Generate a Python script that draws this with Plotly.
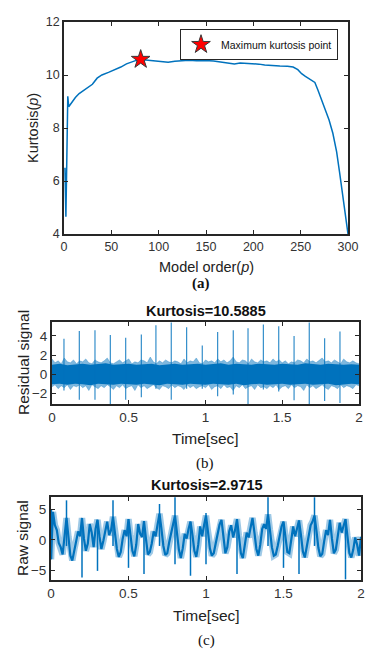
import numpy as np
import plotly.graph_objects as go

# ---------------- data ----------------
# (a) kurtosis versus AR model order
order_p = [1, 2, 3, 4, 5, 8, 12, 16, 20, 25, 30, 35, 40, 47, 55, 60, 66, 72, 77, 81,
           86, 92, 98, 104, 110, 117, 124, 132, 140, 149, 158, 166, 174, 180, 186,
           193, 200, 206, 212, 220, 228, 236, 242, 247, 251, 255, 260, 265, 268, 272,
           276, 280, 284, 288, 291, 294, 297, 299, 300]
kurt_p = [6.5, 4.65, 6.9, 9.2, 8.8, 8.95, 9.15, 9.3, 9.4, 9.52, 9.65, 9.88, 10.0, 10.1,
          10.22, 10.3, 10.42, 10.5, 10.56, 10.5885, 10.57, 10.55, 10.52, 10.5, 10.48,
          10.52, 10.55, 10.56, 10.54, 10.55, 10.53, 10.5, 10.46, 10.42, 10.45, 10.44,
          10.42, 10.41, 10.38, 10.35, 10.34, 10.33, 10.3, 10.2, 10.05, 9.95, 9.85, 9.72,
          9.45, 9.06, 8.65, 8.3, 7.8, 7.1, 6.35, 5.5, 4.7, 4.25, 4.0]
max_order = [81]
max_kurt = [10.5885]

# (b) residual signal: noise envelope (every 0.02 s) and impulses
res_upper = [1.6, 1.2, 1.4, 1.1, 1.7, 1.3, 1.2, 1.5, 1.1, 1.4,
             1.3, 1.6, 1.2, 1.1, 1.5, 1.3, 1.2, 1.4, 1.7, 1.2,
             1.1, 1.3, 1.5, 1.2, 1.4, 1.6, 1.1, 1.3, 1.2, 1.5,
             1.4, 1.2, 1.8, 1.3, 1.1, 1.4, 1.2, 1.5, 1.3, 1.2,
             1.4, 1.3, 1.1, 1.6, 1.2, 1.4, 1.3, 1.7, 1.2, 1.1,
             1.5, 1.3, 1.4, 1.2, 1.6, 1.3, 1.5, 1.2, 1.4, 1.8,
             1.3, 1.2, 1.5, 1.4, 1.1, 1.6, 1.3, 1.2, 1.5, 1.3,
             1.4, 1.2, 1.6, 1.3, 1.5, 1.2, 1.4, 1.1, 1.3, 1.2,
             1.5, 1.4, 1.2, 1.6, 1.3, 1.4, 1.2, 1.5, 1.7, 1.3,
             1.4, 1.2, 1.5, 1.3, 1.1, 1.6, 1.3, 1.2, 1.4, 1.2, 1.1]
res_lower = [-1.3, -1.1, -1.5, -1.2, -1.4, -1.1, -1.6, -1.2, -1.3, -1.1,
             -1.4, -1.2, -1.7, -1.1, -1.3, -1.5, -1.2, -1.4, -1.1, -1.3,
             -1.6, -1.2, -1.4, -1.1, -1.5, -1.3, -1.2, -1.7, -1.1, -1.4,
             -1.2, -1.5, -1.3, -1.1, -1.4, -1.6, -1.2, -1.3, -1.5, -1.1,
             -1.4, -1.2, -1.3, -1.6, -1.1, -1.4, -1.2, -1.5, -1.3, -1.2,
             -1.4, -1.1, -1.6, -1.3, -1.2, -1.5, -1.1, -1.4, -1.3, -1.7,
             -1.2, -1.4, -1.1, -1.5, -1.3, -1.2, -1.6, -1.1, -1.4, -1.3,
             -1.5, -1.2, -1.4, -1.1, -1.6, -1.3, -1.2, -1.5, -1.1, -1.4,
             -1.2, -1.3, -1.7, -1.1, -1.4, -1.2, -1.5, -1.3, -1.1, -1.4,
             -1.6, -1.2, -1.3, -1.5, -1.1, -1.4, -1.2, -1.3, -1.5, -1.1, -1.2]
res_core_hi = [1.0, 1.1, 0.95, 1.05, 1.1, 1.0, 1.05, 1.15, 1.0, 1.05, 1.1, 1.0, 1.05,
               1.1, 0.95, 1.05, 1.1, 1.0, 1.05, 1.1, 1.0, 1.05, 1.15, 1.0, 1.1, 1.05,
               1.0, 1.1, 1.05, 1.0, 1.1, 1.05, 1.0, 1.15, 1.05, 1.0, 1.1, 1.05, 1.0,
               1.05, 1.0]
res_core_lo = [-1.05, -1.0, -1.1, -1.0, -1.05, -1.15, -1.0, -1.05, -1.1, -1.0, -1.05,
               -1.1, -1.0, -1.05, -1.15, -1.0, -1.05, -1.1, -1.0, -1.05, -1.1, -1.0,
               -1.05, -1.1, -1.0, -1.15, -1.05, -1.0, -1.1, -1.05, -1.0, -1.1, -1.05,
               -1.0, -1.1, -1.05, -1.0, -1.15, -1.05, -1.0, -1.05]
res_spike_t = [0.078, 0.178, 0.28, 0.38, 0.48, 0.582, 0.677, 0.777, 0.877, 0.979,
               1.079, 1.181, 1.277, 1.377, 1.477, 1.577, 1.676, 1.776, 1.876]
res_spike_hi = [3.7, 4.5, 4.6, 4.1, 3.8, 4.15, 5.1, 5.4, 4.9, 3.0,
                4.4, 4.6, 4.8, 5.2, 5.0, 4.0, 5.4, 3.75, 4.45]
res_spike_lo = [-1.7, -2.65, -2.65, -3.1, -2.65, -2.4, -1.5, -2.65, -1.5, -1.5,
                -2.3, -2.1, -3.1, -1.6, -1.8, -2.7, -3.1, -2.8, -3.0]

# (c) raw signal, sampled every 0.0125 s
raw_signal = [
    -3.2, 4.6, 2.4, 1.6, -0.5, -1.2, -2.4, 0.5,
    3.6, 0.5, -2.6, -3.4, -1.6, -0.2, 1.4, 0.6,
    3.6, 0.2, -1.8, -0.6, 2.6, 1.2, -1.2, 1.8,
    3.3, 0.6, -1.5, -0.2, 1.2, 3.0, 0.8, 1.6,
    3.8, 1.5, -1.5, -2.8, -2.0, 0.2, 1.6, 0.6,
    3.4, 0.8, -1.8, -2.7, -0.8, 2.6, 1.0, 0.5,
    3.1, 0.2, -2.4, -2.0, -0.6, 1.4, 0.6, 2.5,
    4.3, 1.8, -1.0, -2.5, -2.2, -0.4, 1.2, 2.4,
    4.0, 1.2, -1.6, -3.0, -1.4, 1.0, 0.2, 1.8,
    3.0, 0.8, -1.8, -2.8, -0.8, 2.2, 0.6, 2.4,
    4.0, 1.4, -1.4, -2.6, -2.2, -0.6, 1.0, 2.5,
    3.3, 0.2, -2.2, -1.2, 1.4, 2.4, 0.4, 1.6,
    3.4, 0.6, -2.2, -3.0, -1.0, 1.2, 0.4, 2.2,
    3.6, 1.2, -1.5, -2.6, -0.8, 1.8, 2.6, 1.8,
    4.2, 1.6, -1.2, -2.6, -2.4, -1.0, 0.6, 2.2,
    3.0, 0.6, -2.0, -2.2, 0.2, 2.2, 0.6, 2.0,
    3.2, 0.8, -1.9, -2.9, -1.2, 0.8, 2.4, 3.0,
    4.0, 1.5, -1.3, -2.7, -2.3, -0.2, 1.6, 0.8,
    3.3, 0.2, -2.2, -1.6, 0.8, 2.8, 1.2, 2.2,
    3.4, 0.6, -2.2, -2.9, -1.6, 0.4, -0.8, -2.6,
    0.5]
raw_spike_t = [0.003, 0.1, 0.2, 0.3, 0.4, 0.5, 0.6, 0.7, 0.8, 0.9, 1.0, 1.2, 1.4,
               1.5, 1.6, 1.7, 1.9]
raw_spike_hi = [5.0, 6.5, 3.5, 3.3, 6.5, 3.4, 3.0, 5.9, 7.0, 3.0, 4.4, 3.4, 7.0,
                3.0, 3.2, 7.0, 3.4]
raw_spike_lo = [-3.2, -1.0, -6.2, -5.1, -1.0, -4.6, -5.6, -1.0, -4.0, -5.9, -4.0,
                -5.6, -1.0, -4.6, -5.6, -1.0, -6.5]

time_ticks = [0, 0.5, 1, 1.5, 2]
time_labels = ['0', '0.5', '1', '1.5', '2']

# ---------------- figure ----------------
# page body has an 8px margin: figure spans window pixels 8..374 x 8..649
OFF = 8
W, H = 382 - 2 * OFF, 657 - 2 * OFF
BLUE = '#0072BD'
TXT = '#262626'
SANS = 'Liberation Sans, Arial, sans-serif'
SERIF = 'Liberation Serif, Times New Roman, serif'


def fx(p):
    return (p - OFF) / W


def fy(p):
    return 1 - (p - OFF) / H


def segs(ts, lo, hi):
    xs, ys = [], []
    for t, a, b in zip(ts, lo, hi):
        xs += [t, t, None]
        ys += [a, b, None]
    return xs, ys


fig = go.Figure()

# panel (a)
fig.add_trace(go.Scatter(x=order_p, y=kurt_p, mode='lines',
                         line=dict(color=BLUE, width=1.5), showlegend=False,
                         xaxis='x', yaxis='y', hoverinfo='skip'))
fig.add_trace(go.Scatter(x=max_order, y=max_kurt, mode='markers',
                         marker=dict(symbol='star', size=14, color='#FF0000',
                                     line=dict(color='#3a3a3a', width=1)),
                         name='Maximum kurtosis point', showlegend=True,
                         xaxis='x', yaxis='y'))

# panel (b)
res_t = np.linspace(0, 2, len(res_upper))
core_t = np.linspace(0, 2, len(res_core_hi))
fig.add_trace(go.Scatter(x=res_t, y=res_lower, mode='lines',
                         line=dict(width=0.6, color='rgba(0,114,189,0.5)'),
                         showlegend=False, xaxis='x2', yaxis='y2', hoverinfo='skip'))
fig.add_trace(go.Scatter(x=res_t, y=res_upper, mode='lines', fill='tonexty',
                         fillcolor='rgba(0,114,189,0.5)',
                         line=dict(width=0.6, color='rgba(0,114,189,0.5)'),
                         showlegend=False, xaxis='x2', yaxis='y2', hoverinfo='skip'))
fig.add_trace(go.Scatter(x=core_t, y=res_core_lo, mode='lines',
                         line=dict(width=0, color=BLUE),
                         showlegend=False, xaxis='x2', yaxis='y2', hoverinfo='skip'))
fig.add_trace(go.Scatter(x=core_t, y=res_core_hi, mode='lines', fill='tonexty',
                         fillcolor=BLUE, line=dict(width=0, color=BLUE),
                         showlegend=False, xaxis='x2', yaxis='y2', hoverinfo='skip'))
sx, sy = segs(res_spike_t, res_spike_lo, res_spike_hi)
fig.add_trace(go.Scatter(x=sx, y=sy, mode='lines',
                         line=dict(width=1.2, color='rgba(0,114,189,0.8)'),
                         showlegend=False, xaxis='x2', yaxis='y2', hoverinfo='skip'))

# panel (c)
raw_t = np.linspace(0, 2, len(raw_signal))
fig.add_trace(go.Scatter(x=raw_t, y=raw_signal, mode='lines',
                         line=dict(width=6.5, color='rgba(0,114,189,0.38)'),
                         showlegend=False, xaxis='x3', yaxis='y3', hoverinfo='skip'))
fig.add_trace(go.Scatter(x=raw_t, y=raw_signal, mode='lines',
                         line=dict(width=2.2, color=BLUE),
                         showlegend=False, xaxis='x3', yaxis='y3', hoverinfo='skip'))
cx, cy = segs(raw_spike_t, raw_spike_lo, raw_spike_hi)
fig.add_trace(go.Scatter(x=cx, y=cy, mode='lines',
                         line=dict(width=1.5, color=BLUE),
                         showlegend=False, xaxis='x3', yaxis='y3', hoverinfo='skip'))


def ax(**kw):
    base = dict(showgrid=False, zeroline=False, showline=True, mirror='ticks',
                linecolor=TXT, ticks='inside', ticklen=4, tickcolor=TXT,
                tickwidth=1, fixedrange=True, automargin=False,
                tickfont=dict(family=SANS, size=13.5, color='#333333'))
    base.update(kw)
    return base


fig.update_layout(
    width=W, height=H, autosize=False,
    margin=dict(l=0, r=0, t=0, b=0, pad=0),
    paper_bgcolor='white', plot_bgcolor='white',
    xaxis=ax(domain=[fx(64), fx(348)], anchor='y', range=[0, 300],
             tickvals=[0, 50, 100, 150, 200, 250, 300], linewidth=1.5,
             tickfont=dict(family=SANS, size=12.5, color='#333333')),
    yaxis=ax(domain=[fy(234), fy(22)], anchor='x', range=[4, 12],
             tickvals=[4, 6, 8, 10, 12], linewidth=1.5,
             tickfont=dict(family=SANS, size=12.5, color='#333333')),
    xaxis2=ax(domain=[fx(52), fx(359)], anchor='y2', range=[0, 2],
              tickvals=time_ticks, ticktext=time_labels, linewidth=2),
    yaxis2=ax(domain=[fy(404), fy(322)], anchor='x2', range=[-3.1, 5.45],
              tickvals=[-2, 0, 2, 4], linewidth=2),
    xaxis3=ax(domain=[fx(51), fx(361)], anchor='y3', range=[0, 2],
              tickvals=time_ticks, ticktext=time_labels, linewidth=2),
    yaxis3=ax(domain=[fy(580), fy(497)], anchor='x3', range=[-6.6, 7.05],
              tickvals=[-5, 0, 5], linewidth=2),
    legend=dict(x=fx(180), y=fy(29), xanchor='left', yanchor='top',
                bordercolor=TXT, borderwidth=1, bgcolor='white',
                font=dict(family=SANS, size=10.5, color='#111111'),
                itemwidth=30, tracegroupgap=0),
    showlegend=True,
)


def label(text, x, y, size, angle=0, family=SANS, color='#222222'):
    fig.add_annotation(text=text, x=fx(x), y=fy(y), xref='paper', yref='paper',
                       showarrow=False, textangle=angle, xanchor='center',
                       yanchor='middle',
                       font=dict(family=family, size=size, color=color))


label('Model order(<i>p</i>)', 206, 267, 14.5)
label('Kurtosis(<i>p</i>)', 33, 128, 14.5, angle=-90)
label('<b>(a)</b>', 201, 283, 15, family=SERIF, color='#111111')

label('<b>Kurtosis=10.5885</b>', 205.5, 311, 14.5, color='#111111')
label('Residual signal', 23, 363, 15.5, angle=-90)
label('Time[sec]', 205.5, 438, 15.5)
label('(b)', 205, 463, 15, family=SERIF, color='#111111')

label('<b>Kurtosis=2.9715</b>', 206.5, 485, 14.5, color='#111111')
label('Raw signal', 22, 538, 15.5, angle=-90)
label('Time[sec]', 206, 615, 15.5)
label('(c)', 206, 640, 15, family=SERIF, color='#111111')

fig.write_html('out.html', config=dict(displayModeBar=False))
